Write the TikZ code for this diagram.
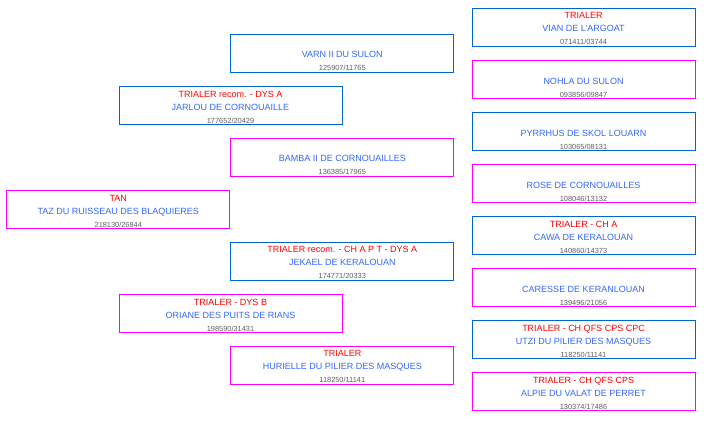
\documentclass[tikz,border=0pt]{standalone}
\usepackage{fontspec}
\setmainfont{Liberation Sans}
\usetikzlibrary{positioning}

\definecolor{penblue}{HTML}{0066CC}
\definecolor{penpink}{HTML}{FF00FF}
\definecolor{titlered}{HTML}{FF0000}
\definecolor{nameblue}{HTML}{3366FF}
\definecolor{idgray}{HTML}{5E5E5E}

% title / name / registration number
\newcommand{\dog}[3]{\rule{0pt}{10pt}{\color{titlered}#1}\\{\color{nameblue}#2}\\{\color{idgray}\fontsize{7.4}{13}\selectfont #3}\rule[-1.6pt]{0pt}{1.6pt}}

\begin{document}
\begin{tikzpicture}[
    x=1pt, y=-1pt,
    node distance=52pt, on grid,
    every node/.style={font=\fontsize{9}{13}\selectfont},
    box/.style={rectangle, draw, line width=1pt, minimum width=223pt, minimum height=38pt, inner sep=0pt, align=center},
    sire/.style={box, draw=penblue},
    dam/.style={box, draw=penpink}
]
\useasboundingbox (0,0) rectangle (706,420);

% generation 1
\node (taz) [dam] at (118.3,209.8) {\dog{TAN}{TAZ DU RUISSEAU DES BLAQUIERES}{218130/26844}};

% generation 2
\node (jarlou) [sire] at (230.5,105.8) {\dog{TRIALER recom. - DYS A}{JARLOU DE CORNOUAILLE}{177652/20429}};
\node (oriane) [dam, below=208pt of jarlou] {\dog{TRIALER - DYS B}{ORIANE DES PUITS DE RIANS}{198590/31431}};

% generation 3
\node (varn) [sire] at (342.3,53.7) {\dog{}{VARN II DU SULON}{125907/11765}};
\node (bamba) [dam, below=104pt of varn] {\dog{}{BAMBA II DE CORNOUAILLES}{136385/17965}};
\node (jekael) [sire, below=104pt of bamba] {\dog{TRIALER recom. - CH A P T - DYS A}{JEKAEL DE KERALOUAN}{174771/20333}};
\node (hurielle) [dam, below=104pt of jekael] {\dog{TRIALER}{HURIELLE DU PILIER DES MASQUES}{118250/11141}};

% generation 4
\node (vian) [sire] at (583.5,27.8) {\dog{TRIALER}{VIAN DE L'ARGOAT}{071411/03744}};
\node (nohla) [dam, below=of vian] {\dog{}{NOHLA DU SULON}{093856/09847}};
\node (pyrrhus) [sire, below=of nohla] {\dog{}{PYRRHUS DE SKOL LOUARN}{103065/08131}};
\node (rose) [dam, below=of pyrrhus] {\dog{}{ROSE DE CORNOUAILLES}{108046/13132}};
\node (cawa) [sire, below=of rose] {\dog{TRIALER - CH A}{CAWA DE KERALOUAN}{140860/14373}};
\node (caresse) [dam, below=of cawa] {\dog{}{CARESSE DE KERANLOUAN}{139496/21056}};
\node (utzi) [sire, below=of caresse] {\dog{TRIALER - CH QFS CPS CPC}{UTZI DU PILIER DES MASQUES}{118250/11141}};
\node (alpie) [dam, below=of utzi] {\dog{TRIALER - CH QFS CPS}{ALPIE DU VALAT DE PERRET}{130374/17486}};
\end{tikzpicture}
\end{document}
